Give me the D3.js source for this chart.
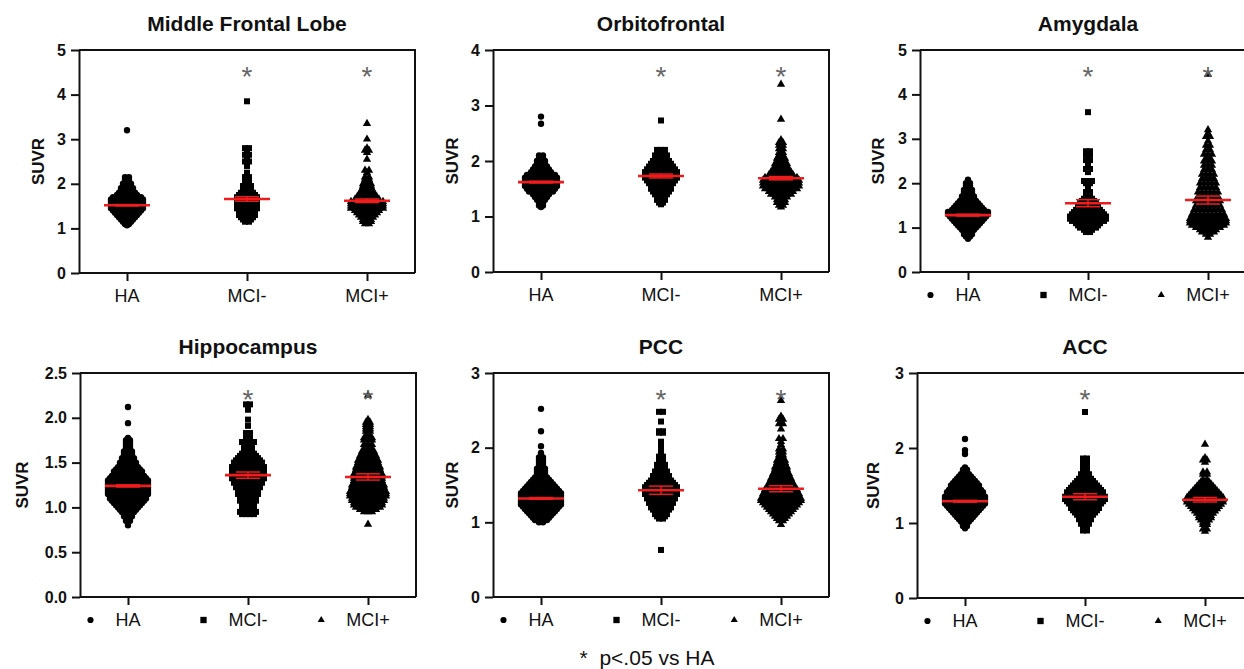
<!DOCTYPE html>
<html><head><meta charset="utf-8">
<script src="https://cdn.jsdelivr.net/npm/d3@7"></script>
<style>
body{margin:0;background:#fff}
svg{display:block}
text{font-family:Arial,"Liberation Sans",sans-serif}
</style>
</head><body>
<svg id="chart" width="1244" height="669"></svg>
<script>
// ---------- data ----------
const groups = ["HA", "MCI-", "MCI+"];
const regions = ["Middle Frontal Lobe", "Orbitofrontal", "Amygdala", "Hippocampus", "PCC", "ACC"];
const yMaxes = [5, 4, 5, 2.5, 3, 3];
const yTickSteps = [1, 1, 1, 0.5, 1, 1];
const meanValues = [[1.52,1.66,1.62],[1.62,1.73,1.69],[1.28,1.55,1.62],[1.24,1.36,1.34],[1.32,1.43,1.45],[1.29,1.35,1.31]];
const semValues  = [[0.015,0.05,0.04],[0.015,0.035,0.03],[0.02,0.08,0.09],[0.012,0.035,0.035],[0.012,0.055,0.04],[0.012,0.04,0.03]];
const starFlags  = [[0,1,1],[0,1,1],[0,1,1],[0,1,1],[0,1,1],[0,1,0]];
const footnote = "*  p<.05 vs HA";

// [SUVR value, number of subjects at that level]
const mflHA = [[3.2,1],[2.15,2],[2.1,2],[2.05,2],[2.0,3],[1.95,3],[1.9,4],[1.85,4],[1.8,5],[1.75,6],[1.7,8],[1.65,9],[1.6,9],[1.55,9],[1.5,9],[1.45,9],[1.4,8],[1.35,7],[1.3,6],[1.25,5],[1.2,4],[1.15,3],[1.1,2],[1.07,1]];
const mflMCIneg = [[3.85,1],[2.8,2],[2.75,1],[2.65,2],[2.55,1],[2.5,2],[2.4,1],[2.25,1],[2.15,2],[2.1,2],[2.0,2],[1.95,3],[1.9,2],[1.85,3],[1.8,4],[1.75,5],[1.7,6],[1.65,6],[1.6,6],[1.55,6],[1.5,6],[1.45,6],[1.4,5],[1.35,5],[1.3,5],[1.25,4],[1.2,3],[1.15,2]];
const mflMCIpos = [[3.35,1],[3.0,1],[2.8,1],[2.75,2],[2.7,1],[2.55,1],[2.3,2],[2.25,1],[2.15,2],[2.1,2],[2.05,2],[2.0,3],[1.95,3],[1.9,3],[1.85,4],[1.8,4],[1.75,5],[1.7,6],[1.65,7],[1.6,9],[1.55,9],[1.5,9],[1.45,9],[1.4,7],[1.35,6],[1.3,5],[1.25,4],[1.2,3],[1.15,3],[1.1,2]];

const ofHA = [[2.8,1],[2.67,1],[2.1,2],[2.05,2],[2.0,3],[1.95,3],[1.9,4],[1.85,5],[1.8,6],[1.75,8],[1.7,9],[1.65,9],[1.6,9],[1.55,9],[1.5,8],[1.45,7],[1.4,5],[1.35,4],[1.3,3],[1.25,2],[1.2,2],[1.17,1]];
const ofMCIneg = [[2.73,1],[2.2,3],[2.15,3],[2.1,4],[2.05,4],[2.0,5],[1.95,6],[1.9,7],[1.85,8],[1.8,9],[1.75,9],[1.7,9],[1.65,8],[1.6,7],[1.55,6],[1.5,6],[1.45,5],[1.4,4],[1.35,3],[1.3,3],[1.25,2],[1.22,1]];
const ofMCIpos = [[3.38,1],[2.75,1],[2.38,1],[2.33,2],[2.28,2],[2.22,2],[2.15,2],[2.1,2],[2.05,3],[2.0,3],[1.95,4],[1.9,4],[1.85,5],[1.8,6],[1.75,7],[1.7,9],[1.65,10],[1.6,10],[1.55,10],[1.5,9],[1.45,7],[1.4,6],[1.35,4],[1.3,3],[1.25,3],[1.2,2],[1.17,1]];

const amyHA = [[2.08,1],[2.0,2],[1.95,2],[1.9,2],[1.85,3],[1.8,3],[1.75,3],[1.7,4],[1.65,4],[1.6,5],[1.55,6],[1.5,7],[1.45,8],[1.4,9],[1.35,11],[1.3,11],[1.25,10],[1.2,9],[1.15,8],[1.1,7],[1.05,6],[1.0,5],[0.95,4],[0.9,3],[0.85,3],[0.8,2],[0.75,1]];
const amyMCIneg = [[3.6,1],[2.72,2],[2.65,2],[2.58,1],[2.52,2],[2.45,1],[2.38,1],[2.32,2],[2.25,1],[2.05,3],[2.0,2],[1.9,1],[1.8,2],[1.75,2],[1.65,3],[1.6,4],[1.55,5],[1.5,6],[1.45,6],[1.4,7],[1.35,8],[1.3,9],[1.25,10],[1.2,10],[1.15,9],[1.1,7],[1.05,6],[1.0,5],[0.95,3],[0.9,2]];
const amyMCIpos = [[4.45,1],[3.2,1],[3.12,1],[3.05,2],[2.95,1],[2.85,2],[2.75,2],[2.65,3],[2.55,2],[2.5,3],[2.4,3],[2.3,3],[2.2,4],[2.1,4],[2.0,5],[1.9,5],[1.8,6],[1.7,6],[1.6,7],[1.5,7],[1.4,8],[1.3,9],[1.25,9],[1.2,10],[1.15,10],[1.1,10],[1.05,9],[1.0,7],[0.95,5],[0.9,4],[0.85,2],[0.78,1]];

const hipHA = [[2.12,1],[1.94,1],[1.775,1],[1.75,2],[1.725,2],[1.7,2],[1.675,2],[1.65,2],[1.625,3],[1.6,3],[1.575,3],[1.55,4],[1.525,4],[1.5,5],[1.475,5],[1.45,6],[1.425,7],[1.4,8],[1.375,8],[1.35,9],[1.325,10],[1.3,11],[1.275,11],[1.25,11],[1.225,11],[1.2,11],[1.175,11],[1.15,11],[1.125,10],[1.1,10],[1.075,9],[1.05,8],[1.025,7],[1.0,6],[0.975,5],[0.95,4],[0.925,3],[0.9,3],[0.875,2],[0.85,2],[0.825,1],[0.8,1]];
const hipMCIneg = [[2.15,2],[2.09,1],[1.98,1],[1.91,1],[1.83,2],[1.78,2],[1.73,4],[1.7,3],[1.65,3],[1.6,4],[1.575,5],[1.55,6],[1.525,7],[1.5,8],[1.475,8],[1.45,9],[1.425,9],[1.4,9],[1.375,9],[1.35,9],[1.325,9],[1.3,8],[1.275,8],[1.25,7],[1.225,7],[1.2,6],[1.175,6],[1.15,6],[1.125,5],[1.1,5],[1.075,5],[1.05,4],[1.025,4],[1.0,4],[0.975,4],[0.95,5],[0.925,4]];
const hipMCIpos = [[2.25,1],[1.98,1],[1.95,2],[1.925,2],[1.9,2],[1.875,2],[1.85,2],[1.8,2],[1.775,3],[1.75,3],[1.7,3],[1.65,3],[1.625,4],[1.6,4],[1.575,5],[1.55,5],[1.525,6],[1.5,6],[1.475,6],[1.45,7],[1.425,7],[1.4,7],[1.375,8],[1.35,8],[1.325,8],[1.3,8],[1.275,8],[1.25,9],[1.225,9],[1.2,9],[1.175,10],[1.15,10],[1.125,10],[1.1,9],[1.075,9],[1.05,8],[1.025,8],[1.0,7],[0.975,5],[0.95,3],[0.81,1]];

const pccHA = [[2.52,1],[2.22,1],[2.02,1],[1.93,1],[1.9,1],[1.87,2],[1.84,2],[1.81,2],[1.78,2],[1.75,2],[1.72,3],[1.69,3],[1.66,3],[1.63,3],[1.6,4],[1.57,5],[1.54,6],[1.51,7],[1.48,8],[1.45,9],[1.42,10],[1.39,11],[1.36,11],[1.33,11],[1.3,11],[1.27,11],[1.24,11],[1.21,10],[1.18,9],[1.15,8],[1.12,7],[1.09,6],[1.06,5],[1.03,4],[1.0,2]];
const pccMCIneg = [[2.48,2],[2.35,1],[2.22,2],[2.2,2],[2.08,1],[2.02,1],[1.95,1],[1.88,2],[1.84,2],[1.8,2],[1.77,3],[1.74,3],[1.71,3],[1.68,4],[1.65,4],[1.62,5],[1.59,5],[1.56,6],[1.53,7],[1.5,8],[1.47,9],[1.44,9],[1.41,9],[1.38,9],[1.35,8],[1.32,8],[1.29,7],[1.26,7],[1.23,6],[1.2,6],[1.17,5],[1.14,4],[1.11,4],[1.08,3],[1.05,2],[0.63,1]];
const pccMCIpos = [[2.63,1],[2.42,1],[2.38,2],[2.32,2],[2.25,1],[2.12,2],[2.08,1],[2.04,1],[1.98,2],[1.94,2],[1.9,2],[1.86,2],[1.83,3],[1.8,3],[1.77,3],[1.74,4],[1.71,4],[1.68,4],[1.65,5],[1.62,5],[1.59,6],[1.56,6],[1.53,7],[1.5,7],[1.47,8],[1.44,9],[1.41,9],[1.38,10],[1.35,10],[1.32,11],[1.29,11],[1.26,10],[1.23,9],[1.2,8],[1.17,7],[1.14,6],[1.11,5],[1.08,4],[1.05,3],[1.02,2],[0.97,1]];

const accHA = [[2.12,1],[1.97,1],[1.92,1],[1.74,1],[1.71,2],[1.68,2],[1.65,3],[1.62,4],[1.59,5],[1.56,6],[1.53,7],[1.5,8],[1.47,8],[1.44,9],[1.41,10],[1.38,10],[1.35,11],[1.32,11],[1.29,11],[1.26,11],[1.23,10],[1.2,9],[1.17,8],[1.14,7],[1.11,6],[1.08,5],[1.05,4],[1.02,3],[0.99,2],[0.96,2],[0.93,1]];
const accMCIneg = [[2.48,1],[1.86,2],[1.83,2],[1.8,2],[1.77,2],[1.74,2],[1.71,2],[1.68,2],[1.65,3],[1.62,3],[1.59,4],[1.56,5],[1.53,6],[1.5,7],[1.47,8],[1.44,9],[1.41,10],[1.38,10],[1.35,11],[1.32,11],[1.29,10],[1.26,9],[1.23,8],[1.2,8],[1.17,7],[1.14,6],[1.11,5],[1.08,4],[1.05,4],[1.02,3],[0.99,3],[0.96,2],[0.93,2],[0.9,2]];
const accMCIpos = [[2.05,1],[1.87,1],[1.84,2],[1.81,1],[1.68,2],[1.65,2],[1.58,2],[1.55,3],[1.52,4],[1.49,5],[1.46,6],[1.43,7],[1.4,8],[1.37,9],[1.34,10],[1.31,10],[1.28,10],[1.25,9],[1.22,8],[1.19,7],[1.16,6],[1.13,5],[1.1,4],[1.07,4],[1.04,3],[1.01,2],[0.98,2],[0.92,2],[0.89,1]];

const panelData = [
  [mflHA, mflMCIneg, mflMCIpos],
  [ofHA, ofMCIneg, ofMCIpos],
  [amyHA, amyMCIneg, amyMCIpos],
  [hipHA, hipMCIneg, hipMCIpos],
  [pccHA, pccMCIneg, pccMCIpos],
  [accHA, accMCIneg, accMCIpos]
];

// ---------- layout ----------
const layout = [
  {x:79,  y:50,  h:223, legend:false, labOff:41},
  {x:493, y:50,  h:222, legend:false, labOff:41},
  {x:920, y:50,  h:222, legend:true,  labOff:42},
  {x:80,  y:373, h:224, legend:true,  labOff:58},
  {x:493, y:373, h:224, legend:true,  labOff:41},
  {x:917, y:373, h:225, legend:true,  labOff:44}
];
const W = 336;
const RED = "#ee1c1c";
const symTypes = [d3.symbolCircle, d3.symbolSquare, d3.symbolTriangle];
const symSizes = [32, 36, 30];
const legSizes = [30, 40, 22];
const step = 4.0;

const svg = d3.select("#chart");

panelData.forEach((pd, p) => {
  const L = layout[p];
  const g = svg.append("g").attr("transform", `translate(${L.x},${L.y})`);
  const y = d3.scaleLinear().domain([0, yMaxes[p]]).range([L.h, 0]);
  const x = d3.scalePoint().domain(groups).range([48, 288]);

  // title
  svg.append("text").attr("x", L.x + W/2).attr("y", L.y - 19)
    .attr("text-anchor","middle").attr("font-size",21).attr("font-weight","bold")
    .attr("fill","#111").text(regions[p]);

  // points
  pd.forEach((rows, gi) => {
    const pts = [];
    rows.forEach(([v, n]) => {
      for (let i = 0; i < n; i++) pts.push({v, dx: (i - (n - 1) / 2) * step});
    });
    g.append("g").selectAll("path").data(pts).join("path")
      .attr("transform", d => `translate(${x(groups[gi]) + d.dx},${y(d.v)})`)
      .attr("d", d3.symbol().type(symTypes[gi]).size(symSizes[gi]))
      .attr("fill","#000");
  });

  // mean & SEM
  groups.forEach((grp, gi) => {
    const cx = x(grp), m = meanValues[p][gi], s = semValues[p][gi];
    const eg = g.append("g").attr("stroke", RED);
    eg.append("line").attr("x1",cx).attr("x2",cx).attr("y1",y(m - s)).attr("y2",y(m + s)).attr("stroke-width",1.5);
    [m - s, m + s].forEach(v => eg.append("line").attr("x1",cx-12).attr("x2",cx+12).attr("y1",y(v)).attr("y2",y(v)).attr("stroke-width",1.5));
    eg.append("line").attr("x1",cx-23).attr("x2",cx+23).attr("y1",y(m)).attr("y2",y(m)).attr("stroke-width",2.6);
    if (starFlags[p][gi]) {
      g.append("text").attr("x",cx).attr("y",36).attr("text-anchor","middle")
        .attr("font-size",28).attr("fill","#666").text("*");
    }
  });

  // frame top/right
  g.append("path").attr("d",`M0,0H${W}V${L.h}`).attr("fill","none").attr("stroke","#111").attr("stroke-width",2);

  // y axis
  const tv = d3.range(0, yMaxes[p] + 1e-9, yTickSteps[p]);
  const ya = g.append("g").call(d3.axisLeft(y).tickValues(tv).tickSize(8).tickPadding(5).tickSizeOuter(0)
      .tickFormat(yTickSteps[p] < 1 ? d3.format(".1f") : d3.format("d")));
  ya.selectAll("path,line").attr("stroke","#111").attr("stroke-width",2);
  ya.selectAll("text").attr("font-size",16).attr("font-weight","bold").attr("fill","#111")
    .attr("font-family","Arial,'Liberation Sans',sans-serif");

  // x axis
  const xa = g.append("g").attr("transform",`translate(0,${L.h})`)
    .call(d3.axisBottom(x).tickSize(8).tickFormat("").tickSizeOuter(0));
  xa.select(".domain").attr("d", `M0,0H${W}`);
  xa.selectAll("path,line").attr("stroke","#111").attr("stroke-width",2);

  // category labels (+ legend symbols)
  groups.forEach((grp, gi) => {
    const t = g.append("text").attr("x", x(grp)).attr("y", L.h + 29).attr("text-anchor","middle")
      .attr("font-size",18).attr("fill","#111").text(grp);
    if (L.legend) {
      const w = t.node().getComputedTextLength();
      g.append("path").attr("transform",`translate(${x(grp) - w/2 - 25},${L.h + 23})`)
        .attr("d", d3.symbol().type(symTypes[gi]).size(legSizes[gi])).attr("fill","#000");
    }
  });

  // y label
  g.append("text").attr("transform",`translate(${-L.labOff},${L.h/2}) rotate(-90)`)
    .attr("text-anchor","middle").attr("dy","0.35em").attr("font-size",17).attr("font-weight","bold")
    .attr("fill","#111").text("SUVR");
});

svg.append("text").attr("x",647).attr("y",665).attr("text-anchor","middle")
  .attr("font-size",21).attr("fill","#111").style("white-space","pre").text(footnote);
</script>
</body></html>
